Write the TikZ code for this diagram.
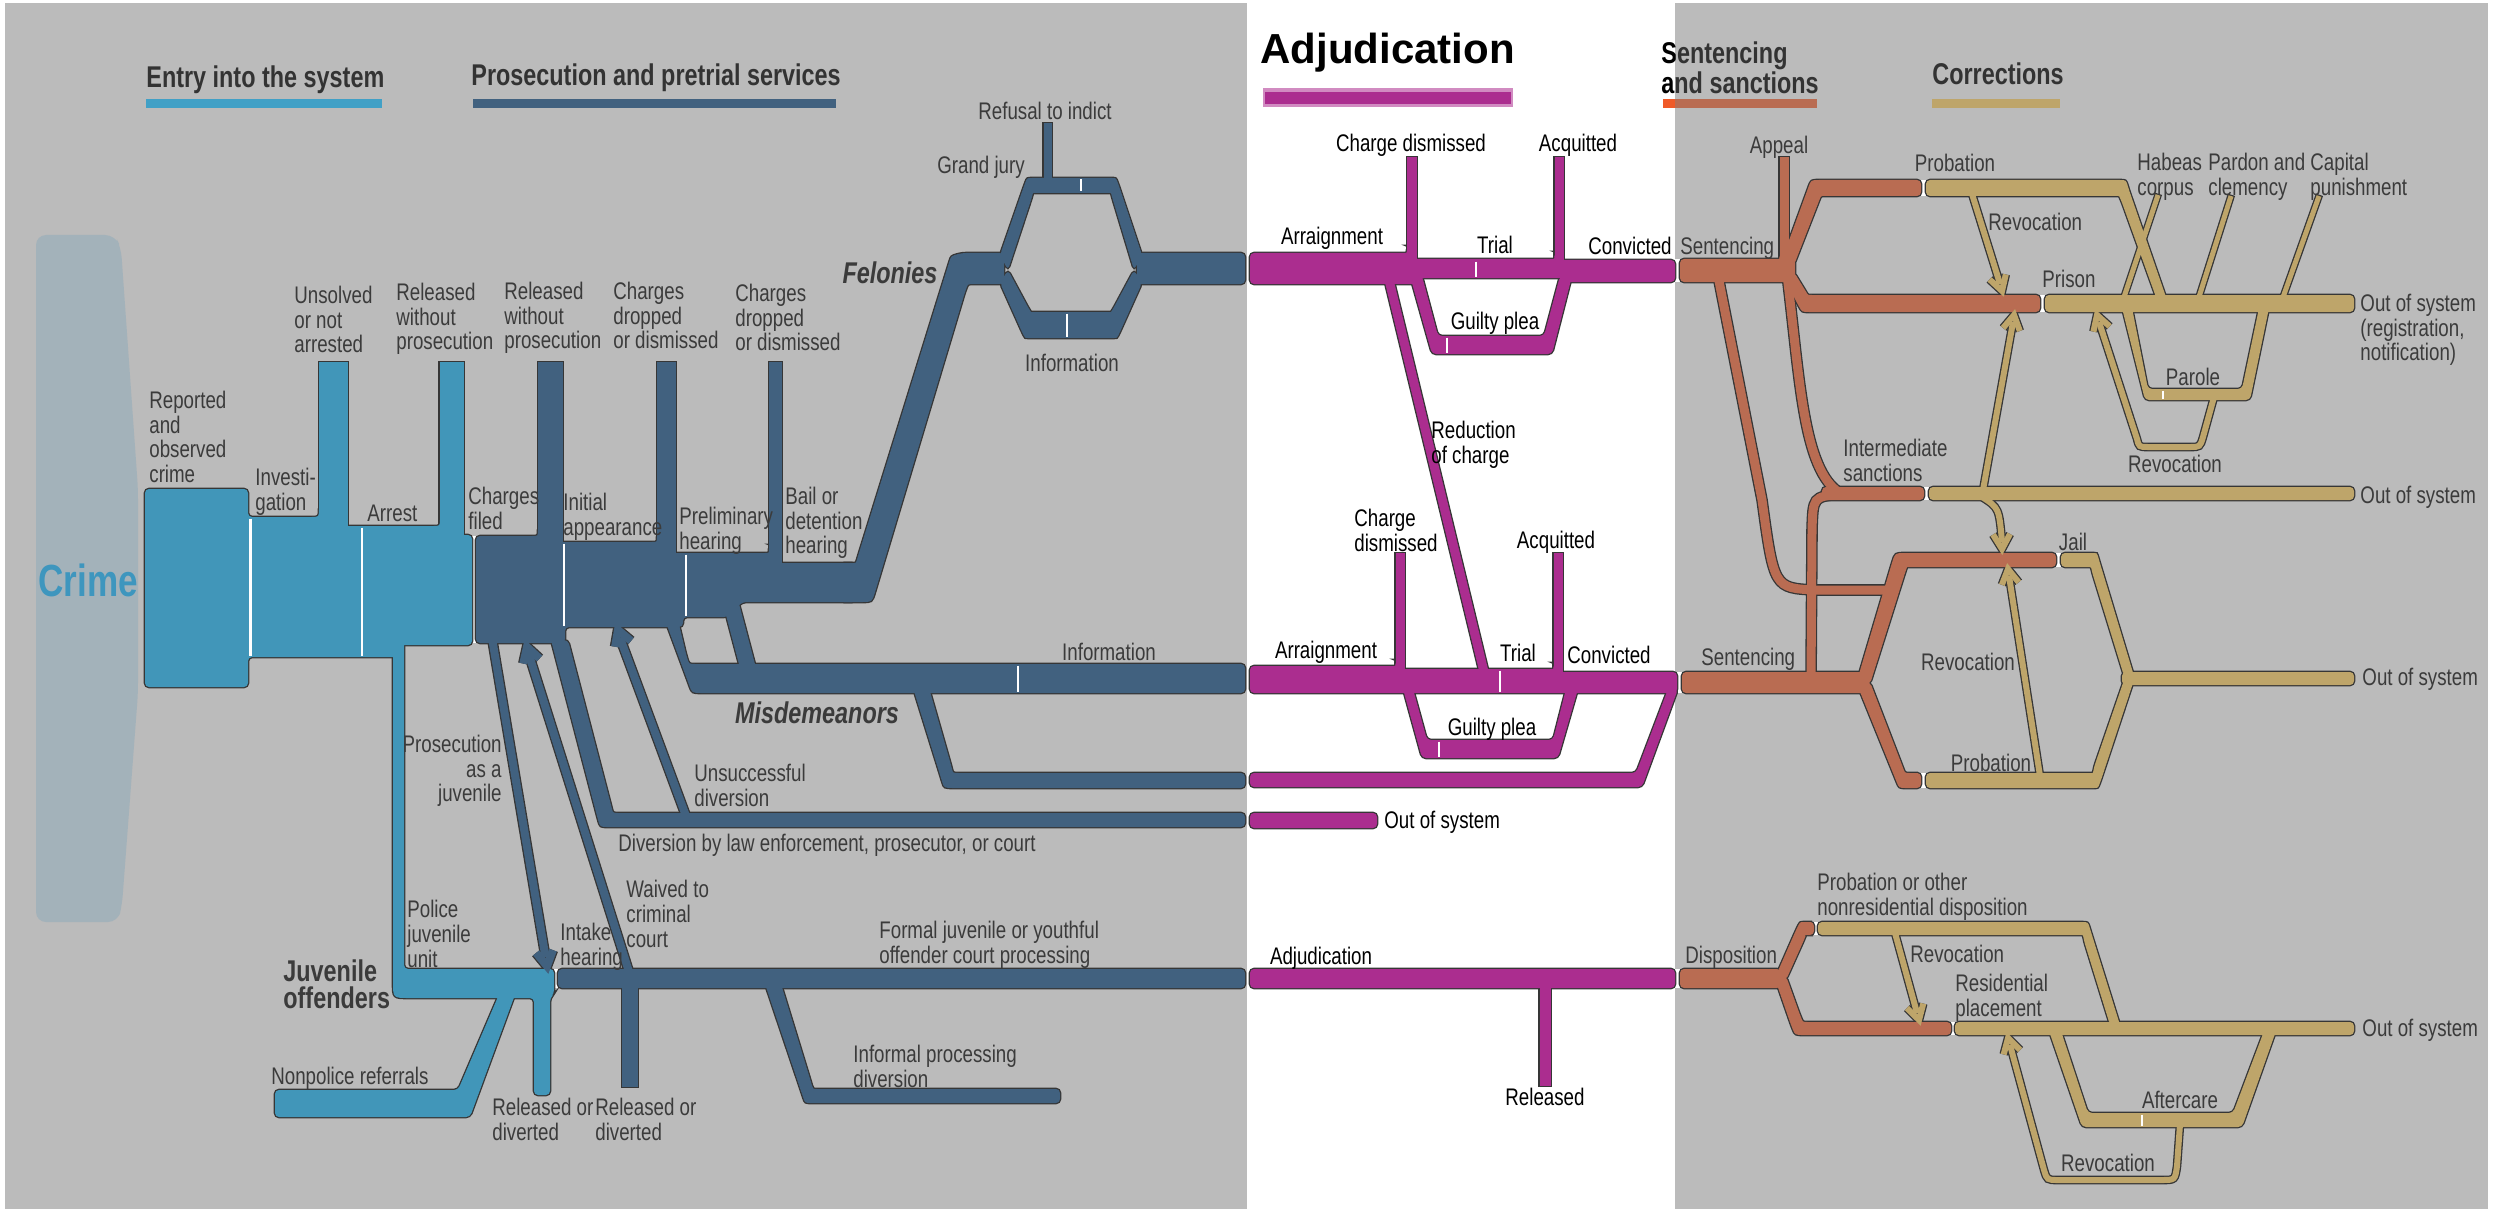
\documentclass[tikz,border=0pt]{standalone}
\usepackage{fontspec}
\setmainfont{Liberation Sans}[FakeStretch=0.78]
\newfontfamily\hdrf{Liberation Sans}
\usetikzlibrary{calc}
\pgfdeclarelayer{bgl}\pgfdeclarelayer{outl}\pgfdeclarelayer{fil}
\pgfsetlayers{bgl,outl,fil,main}
\definecolor{bgg}{HTML}{BBBBBB}
\definecolor{eb}{HTML}{4196B9}
\definecolor{ebh}{HTML}{41A0C6}
\definecolor{pb}{HTML}{41617F}
\definecolor{mg}{HTML}{AB2D8F}
\definecolor{sg}{HTML}{B96C52}
\definecolor{sgb}{HTML}{F05A28}
\definecolor{cg}{HTML}{BEA56A}
\definecolor{crg}{HTML}{A3B2BA}
\definecolor{ol}{HTML}{363636}
\definecolor{tx}{HTML}{3B3B3B}
\definecolor{hx}{HTML}{333333}
\definecolor{crt}{HTML}{3E96BE}
\newcommand\band[4][]{%
 \begin{pgfonlayer}{outl}\draw[draw=ol,line width={(#3+2.6)*0.5pt},#1] #4;\end{pgfonlayer}%
 \begin{pgfonlayer}{fil}\draw[draw=#2,line width={#3*0.5pt}] #4;\end{pgfonlayer}}
\newcommand\blk[2]{%
 \begin{pgfonlayer}{outl}\draw[draw=ol,line width=1.3pt,rounded corners=2pt] #2;\end{pgfonlayer}%
 \begin{pgfonlayer}{fil}\fill[#1,rounded corners=2pt] #2;\end{pgfonlayer}}
\newcommand\arhd[4]{\band{#1}{#2}{($(#3)!8.5pt!30:(#4)$) -- (#3) -- ($(#3)!8.5pt!-30:(#4)$)}}
\newcommand\wsep[3]{\draw[white,line width=1.3pt] (#1,#2) -- (#1,#3);}
\newcommand\lblfont{\fontsize{12}{12.3}\selectfont}
\tikzset{
 lb/.style={font=\lblfont, text=tx, inner sep=0pt, align=left},
 lk/.style={font=\lblfont, text=black, inner sep=0pt, align=left},
 hd/.style={font={\fontsize{15}{13.5}\selectfont\bfseries}, text=hx, inner sep=0pt, align=left},
 bi/.style={font={\fontsize{15}{13.5}\selectfont\bfseries\itshape}, text=tx, inner sep=0pt}
}
\begin{document}
\begin{tikzpicture}[x=0.5pt,y=-0.5pt]
\useasboundingbox (0,0) rectangle (2493,1209);
\begin{pgfonlayer}{bgl}
\fill[white] (0,0) rectangle (2493,1209);
\fill[bgg] (5,3) rectangle (1247,1209);
\fill[bgg] (1675,3) rectangle (2488,1209);
\fill[crg, rounded corners=5pt] (36,922) -- (36,235) -- (115,235) -- (121,248) -- (138,489) -- (138,693) -- (122,905) -- (118,922) -- cycle;
\foreach \gx/\ga/\gb in {474/536/643, 556/969/988, 1923.5/180/196, 2042.5/295/312, 1926.5/487/500, 2058.5/553/567, 1923.5/773/788, 1816/922/935, 1953/1022/1035, 1677.5/259/282, 1679.5/672/693, 1677.5/969/988}
  \draw[white, line width=2.5pt] (\gx,\ga) -- (\gx,\gb);
\end{pgfonlayer}

% ---------- headers
\node[hd, anchor=base west] (h1) at (146,88) {Entry into the system};
\fill[ebh] (146,99) rectangle (382,108);
\node[hd, anchor=base west] (h2) at (471,86) {Prosecution and pretrial services};
\fill[pb] (473,99) rectangle (836,108);
\node[font={\hdrf\bfseries\fontsize{21}{21}\selectfont}, text=black, anchor=base west, inner sep=0pt] (h3) at (1260,64) {Adjudication};
\fill[mg!55!white] (1263,88) rectangle (1513,107);
\fill[mg] (1265,92) rectangle (1511,104);
\begin{scope}
\clip (0,0) rectangle (1675,200);
\node[hd, text=black, anchor=north west] (h4) at (1661,41) {Sentencing\\and sanctions};
\end{scope}
\begin{scope}
\clip (1675,0) rectangle (2493,200);
\node[hd, anchor=north west] (h4b) at (1661,41) {Sentencing\\and sanctions};
\end{scope}
\fill[sg] (1663,99) rectangle (1817,108);
\fill[sgb] (1663,99) rectangle (1675,108);
\node[hd, anchor=base west] (h5) at (1932,85) {Corrections};
\fill[cg] (1932,99) rectangle (2060,108);

% ---------- entry (light blue)
\blk{eb}{(145,489) -- (248,489) -- (248,517) -- (307,517) .. controls (319,517) .. (319,505) -- (333,505) -- (333,526) -- (429,526) .. controls (440,526) .. (440,515) -- (451,515) -- (451,535) -- (472,535) -- (472,645) -- (398,645) -- (398,657) -- (248,657) -- (248,687) -- (145,687) -- cycle}
\band[shorten >=-0.65pt]{eb}{29}{(333.5,532) -- (333.5,362)}
\band[shorten >=-0.65pt]{eb}{24}{(451.5,542) -- (451.5,362)}
\blk{eb}{(393,640) -- (393,978) .. controls (393,998) .. (413,998) -- (534,998) -- (534,1095) -- (550,1095) -- (550,998) -- (554,994) -- (554,969) -- (404,969) -- (404,640) -- cycle}
\blk{eb}{(275,1090) -- (458,1090) -- (500,992) -- (516,992) -- (470,1117) -- (275,1117) -- cycle}

% ---------- pretrial (dark blue)
\blk{pb}{(476,536) -- (528,536) .. controls (538,536) .. (538,526) -- (550,526) -- (550,542) -- (648,542) .. controls (657,542) .. (657,533) -- (666,533) -- (666,553) -- (761,553) .. controls (769,553) .. (769,545) -- (775,545) -- (775,563) -- (856,563) -- (856,602) -- (742,602) -- (728,617) -- (683,617) -- (683,627) -- (565,627) -- (565,643) -- (476,643) -- cycle}
\band[shorten >=-0.65pt]{pb}{25}{(550.5,548) -- (550.5,362)}
\band[shorten >=-0.65pt]{pb}{19}{(666.5,558) -- (666.5,362)}
\band[shorten >=-0.65pt]{pb}{13}{(775.5,568) -- (775.5,362)}
% felonies
\blk{pb}{(840,563) -- (850,563) .. controls (856,563) .. (858,556) -- (948,266) .. controls (951,256) .. (962,253) -- (1004,253) -- (1004,284) -- (978,284) .. controls (968,284) .. (965,292) -- (876,589) .. controls (872,602) .. (858,602) -- (840,602) -- cycle}
\blk{pb}{(1000,255) -- (1024,186) .. controls (1027,178) .. (1036,178) -- (1108,178) .. controls (1116,178) .. (1119,186) -- (1142,255) -- (1134,270) -- (1112,197) .. controls (1111,193) .. (1106,193) -- (1038,193) .. controls (1033,193) .. (1032,197) -- (1008,270) -- cycle}
\blk{pb}{(1000,283) -- (1022,332) .. controls (1025,338) .. (1032,338) -- (1110,338) .. controls (1117,338) .. (1120,332) -- (1142,283) -- (1134,270) -- (1113,309) .. controls (1111,312) .. (1107,312) -- (1035,312) .. controls (1031,312) .. (1029,309) -- (1008,270) -- cycle}
\blk{pb}{(1137,253) -- (1245,253) -- (1245,284) -- (1137,284) -- cycle}
\band[shorten >=-0.65pt]{pb}{8}{(1047.5,184) -- (1047.5,123)}
% misdemeanors
\blk{pb}{(665,620) -- (678,620) -- (686,654) .. controls (689,664) .. (699,664) -- (1245,664) -- (1245,693) -- (706,693) .. controls (692,693) .. (688,682) -- cycle}
\blk{pb}{(722,600) -- (738,600) -- (756,668) -- (740,668) -- cycle}
\blk{pb}{(913,688) -- (929,688) -- (951,765) .. controls (953,773) .. (963,773) -- (1245,773) -- (1245,788) -- (958,788) .. controls (944,788) .. (941,778) -- cycle}
% diversion
\blk{pb}{(551,640) -- (568,640) -- (611,805) .. controls (613,813) .. (624,813) -- (1245,813) -- (1245,827) -- (612,827) .. controls (600,827) .. (597,816) -- cycle}
% arrows
\band{pb}{8}{(492,638) -- (545.5,957)}
\arhd{pb}{8}{547,966}{492,638}
\band{pb}{8}{(630,975) -- (529,655)}
\arhd{pb}{8}{527,647}{630,975}
\band{pb}{8}{(686,816) -- (620,638)}
\arhd{pb}{8}{618,630}{686,816}
% juvenile formal
\blk{pb}{(558,969) -- (1245,969) -- (1245,988) -- (558,988) -- cycle}
\band[shorten >=-0.65pt]{pb}{16}{(630,985) -- (630,1087)}
\blk{pb}{(765,984) -- (781,984) -- (811,1082) .. controls (813,1089) .. (822,1089) -- (1060,1089) -- (1060,1103) -- (816,1103) .. controls (805,1103) .. (802,1094) -- cycle}

% ---------- adjudication (magenta)
\blk{mg}{(1250,253) -- (1400,253) .. controls (1407,253) .. (1407,246) -- (1412,246) -- (1412,259) -- (1548,259) .. controls (1554.5,259) .. (1554.5,252) -- (1560,252) -- (1560,260) -- (1675,260) -- (1675,282) -- (1566,282) -- (1566,278) -- (1420,278) -- (1420,284) -- (1250,284) -- cycle}
\band[shorten >=-0.65pt]{mg}{10}{(1412,264) -- (1412,157)}
\band[shorten >=-0.65pt]{mg}{9}{(1559,266) -- (1559,157)}
\blk{mg}{(1410,276) -- (1422,276) -- (1438,336) -- (1544,336) -- (1560,276) -- (1572,276) -- (1552,354) -- (1432,354) -- cycle}
\band{mg}{9}{(1389,280) -- (1484,672)}
\blk{mg}{(1250,666) -- (1389,666) .. controls (1395.5,666) .. (1395.5,660) -- (1400,660) -- (1400,669) -- (1547,669) .. controls (1553.5,669) .. (1553.5,663) -- (1558,663) -- (1558,672) -- (1677,672) -- (1677,693) -- (1250,693) -- cycle}
\band[shorten >=-0.65pt]{mg}{9}{(1400,675) -- (1400,553)}
\band[shorten >=-0.65pt]{mg}{9}{(1558,678) -- (1558,553)}
\blk{mg}{(1403,689) -- (1413,689) -- (1427,740) -- (1553,740) -- (1566,689) -- (1578,689) -- (1558,758) -- (1422,758) -- cycle}
\blk{mg}{(1250,773) -- (1636,773) -- (1668,689) -- (1678,689) -- (1642,787) -- (1250,787) -- cycle}
\blk{mg}{(1250,813) -- (1377,813) -- (1377,828) -- (1250,828) -- cycle}
\blk{mg}{(1250,969) -- (1675,969) -- (1675,988) -- (1250,988) -- cycle}
\band[shorten >=-0.65pt]{mg}{11}{(1545,985) -- (1545,1086)}

% ---------- sentencing (orange)
\blk{sg}{(1680,259) -- (1773,259) .. controls (1779.5,259) .. (1779.5,253) -- (1784,253) -- (1795,259) -- (1795,282) -- (1680,282) -- cycle}
\band[shorten >=-0.65pt]{sg}{9}{(1784,268) -- (1784,157)}
\blk{sg}{(1780,265) -- (1807,191) .. controls (1811,180) .. (1823,180) -- (1921,180) -- (1921,196) -- (1826,196) .. controls (1821,196) .. (1819,201) -- (1794,265) -- cycle}
\blk{sg}{(1782,272) -- (1794,272) -- (1805,290) .. controls (1808,295) .. (1816,295) -- (2040,295) -- (2040,312) -- (1813,312) .. controls (1802,312) .. (1797,303) -- cycle}
\band{sg}{9}{(1787,275) .. controls (1800,380) and (1803,470) .. (1840,493)}
\band{sg}{9}{(1718,276) -- (1762,500) .. controls (1774,588) .. (1815,590) -- (1895,590)}
\blk{sg}{(1822,487) -- (1924,487) -- (1924,500) -- (1822,500) -- cycle}
\band{sg}{9}{(1811,680) -- (1812,530) .. controls (1813,497) .. (1840,494)}
\blk{sg}{(1682,672) -- (1866,672) -- (1866,693) -- (1682,693) -- cycle}
\blk{sg}{(1856,684) -- (1891,566) .. controls (1895,553) .. (1909,553) -- (2056,553) -- (2056,567) -- (1912,567) .. controls (1907,567) .. (1905,573) -- (1870,684) -- cycle}
\blk{sg}{(1856,682) -- (1870,682) -- (1902,765) .. controls (1905,773) .. (1914,773) -- (1921,773) -- (1921,788) -- (1910,788) .. controls (1899,788) .. (1895,778) -- cycle}
\blk{sg}{(1680,969) -- (1781,969) -- (1781,988) -- (1680,988) -- cycle}
\blk{sg}{(1774,980) -- (1796,930) .. controls (1800,922) .. (1808,922) -- (1814,922) -- (1814,935) -- (1809,935) .. controls (1806,935) .. (1804,940) -- (1786,980) -- cycle}
\blk{sg}{(1774,976) -- (1786,976) -- (1800,1015) .. controls (1803,1022) .. (1812,1022) -- (1951,1022) -- (1951,1035) -- (1808,1035) .. controls (1795,1035) .. (1791,1025) -- cycle}

% ---------- corrections (tan)
\blk{cg}{(1926,180) -- (2116,180) .. controls (2126,180) .. (2129,190) -- (2167,300) -- (2157,300) -- (2121,200) .. controls (2119,196) .. (2114,196) -- (1926,196) -- cycle}
\blk{cg}{(2045,295) -- (2354,295) -- (2354,312) -- (2045,312) -- cycle}
\band[shorten >=-0.65pt]{cg}{5}{(2123,300) -- (2158,195)}
\band[shorten >=-0.65pt]{cg}{5}{(2198,300) -- (2231,196)}
\band[shorten >=-0.65pt]{cg}{5}{(2282,300) -- (2319,196)}
\band{cg}{6}{(1972,194) -- (2000,284)}
\arhd{cg}{6}{2002,291}{1972,194}
\blk{cg}{(2122,308) -- (2132,308) -- (2148,389) -- (2242,389) -- (2259,308) -- (2269,308) -- (2250,400) -- (2145,400) -- cycle}
\band{cg}{6}{(2214,397) -- (2203,437) .. controls (2200,447) .. (2190,447) -- (2148,447) .. controls (2139,447) .. (2137,439) -- (2099,322)}
\arhd{cg}{6}{2097,315}{2137,439}
\blk{cg}{(1929,487) -- (2354,487) -- (2354,500) -- (1929,500) -- cycle}
\band{cg}{6}{(1983,490) -- (2013,322)}
\arhd{cg}{6}{2014,315}{1983,490}
\band{cg}{6}{(1982,497) .. controls (1999,508) .. (2002,542)}
\arhd{cg}{6}{2002,549}{2001,520}
\blk{cg}{(2061,553) -- (2090,553) .. controls (2097,553) .. (2099,560) -- (2134,676) -- (2124,676) -- (2092,572) .. controls (2091,567) .. (2086,567) -- (2061,567) -- cycle}
\blk{cg}{(2122,672) -- (2354,672) -- (2354,685) -- (2122,685) -- cycle}
\blk{cg}{(1926,773) -- (2088,773) .. controls (2093,773) .. (2094,767) -- (2124,680) -- (2134,680) -- (2101,780) .. controls (2098,788) .. (2090,788) -- (1926,788) -- cycle}
\band{cg}{6}{(2040,776) -- (2009,576)}
\arhd{cg}{6}{2008,569}{2040,776}
\blk{cg}{(1818,922) -- (2078,922) .. controls (2088,922) .. (2091,932) -- (2120,1025) -- (2110,1025) -- (2084,941) .. controls (2083,935) .. (2077,935) -- (1818,935) -- cycle}
\band{cg}{6}{(1895,933) -- (1917,1013)}
\arhd{cg}{6}{1919,1020}{1895,933}
\blk{cg}{(1955,1022) -- (2354,1022) -- (2354,1035) -- (1955,1035) -- cycle}
\blk{cg}{(2049,1031) -- (2061,1031) -- (2088,1113) -- (2233,1113) -- (2264,1031) -- (2276,1031) -- (2242,1127) -- (2082,1127) -- cycle}
\band{cg}{6}{(2180,1124) -- (2177,1166) .. controls (2175,1180) .. (2162,1180) -- (2058,1180) .. controls (2047,1180) .. (2044,1170) -- (2010,1045)}
\arhd{cg}{6}{2008,1038}{2044,1170}

% ---------- white separators
\wsep{250.5}{518.5}{655.5}
\wsep{362}{527.5}{655.5}
\wsep{564}{543.5}{625.5}
\wsep{686}{554.5}{615.5}
\wsep{1018}{665.5}{691.5}
\wsep{1081}{179.5}{191.5}
\wsep{1067}{313.5}{336.5}
\wsep{1476}{261.5}{276.5}
\wsep{1447}{337.5}{352.5}
\wsep{1500}{670.5}{691.5}
\wsep{1439}{741.5}{756.5}
\wsep{2163}{390.5}{398.5}
\wsep{2142}{1114.5}{1125.5}

% ---------- labels: entry / pretrial
\node[font={\fontsize{22.5}{22.5}\selectfont\bfseries}, text=crt, inner sep=0pt] (crime) at (88,580) {Crime};
\node[lb, anchor=north west] (l1) at (149,391) {Reported\\and\\observed\\crime};
\node[lb, anchor=north west] (l2) at (255,468) {Investi-\\gation};
\node[lb, anchor=base west] (l3) at (367,521.5) {Arrest};
\node[lb, anchor=north west] (l4) at (468,487) {Charges\\filed};
\node[lb, anchor=north west] (l5) at (563,493) {Initial\\appearance};
\node[lb, anchor=north west] (l6) at (679,507) {Preliminary\\hearing};
\node[lb, anchor=north west] (l7) at (785,487) {Bail or\\detention\\hearing};
\node[lb, anchor=north west] (l8) at (294,286) {Unsolved\\or not\\arrested};
\node[lb, anchor=north west] (l9) at (396,283) {Released\\without\\prosecution};
\node[lb, anchor=north west] (l10) at (504,282) {Released\\without\\prosecution};
\node[lb, anchor=north west] (l11) at (613,282) {Charges\\dropped\\or dismissed};
\node[lb, anchor=north west] (l12) at (735,284) {Charges\\dropped\\or dismissed};
\node[lb, anchor=base] (l13) at (981,173.5) {Grand jury};
\node[lb, anchor=base] (l14) at (1045,119.5) {Refusal to indict};
\node[lb, anchor=base] (l15) at (1072,371.5) {Information};
\node[bi] (l16) at (890,273) {Felonies};
\node[lb, anchor=base] (l17) at (1109,660.5) {Information};
\node[bi] (l18) at (817,713) {Misdemeanors};
\node[lb, anchor=north east, align=right] (l19) at (502,735) {Prosecution\\as a\\juvenile};
\node[lb, anchor=north west] (l20) at (694,764) {Unsuccessful\\diversion};
\node[lb, anchor=base west] (l21) at (618,851.5) {Diversion by law enforcement, prosecutor, or court};
\node[lb, anchor=north west] (l22) at (626,880) {Waived to\\criminal\\court};
\node[lb, anchor=north west] (l23) at (560,923) {Intake\\hearing};
\node[lb, anchor=north west] (l24) at (407,900) {Police\\juvenile\\unit};
\node[hd, text=tx, anchor=north west] (l25) at (283,959) {Juvenile\\offenders};
\node[lb, anchor=north west] (l26) at (879,921) {Formal juvenile or youthful\\offender court processing};
\node[lb, anchor=base west] (l27) at (271,1084.5) {Nonpolice referrals};
\node[lb, anchor=north west] (l28) at (492,1098) {Released or\\diverted};
\node[lb, anchor=north west] (l29) at (595,1098) {Released or\\diverted};
\node[lb, anchor=north west] (l30) at (853,1045) {Informal processing\\diversion};

% ---------- labels: adjudication
\node[lk, anchor=base] (a1) at (1411,152) {Charge dismissed};
\node[lk, anchor=base] (a2) at (1578,152) {Acquitted};
\node[lk, anchor=base] (a3) at (1332,244.5) {Arraignment};
\node[lk, anchor=base] (a4) at (1495,253.5) {Trial};
\node[lk, anchor=base] (a5) at (1630,254.5) {Convicted};
\node[lk, anchor=base] (a6) at (1495,329.5) {Guilty plea};
\node[lk, anchor=north west] (a7) at (1431,421) {Reduction\\of charge};
\node[lk, anchor=north west] (a8) at (1354,509) {Charge\\dismissed};
\node[lk, anchor=base] (a9) at (1556,548.5) {Acquitted};
\node[lk, anchor=base] (a10) at (1326,658.5) {Arraignment};
\node[lk, anchor=base] (a11) at (1518,661.5) {Trial};
\node[lk, anchor=base] (a12) at (1609,663.5) {Convicted};
\node[lk, anchor=base] (a13) at (1492,735.5) {Guilty plea};
\node[lk, anchor=base west] (a14) at (1384,828.5) {Out of system};
\node[lk, anchor=base] (a15) at (1321,964.5) {Adjudication};
\node[lk, anchor=base] (a16) at (1545,1105.5) {Released};

% ---------- labels: sentencing / corrections
\node[lb, anchor=base west] (s1) at (1680,254.5) {Sentencing};
\node[lb, anchor=base] (s2) at (1779,153.5) {Appeal};
\node[lb, anchor=base] (s3) at (1955,171.5) {Probation};
\node[lb, anchor=base west] (s4) at (1988,230.5) {Revocation};
\node[lb, anchor=base] (s5) at (2069,287.5) {Prison};
\node[lb, anchor=north west] (s6) at (2137,153) {Habeas\\corpus};
\node[lb, anchor=north west] (s7) at (2208,153) {Pardon and\\clemency};
\node[lb, anchor=north west] (s8) at (2310,153) {Capital\\punishment};
\node[lb, anchor=north west] (s9) at (2360,294) {Out of system\\(registration,\\notification)};
\node[lb, anchor=base] (s10) at (2193,385.5) {Parole};
\node[lb, anchor=base] (s11) at (2175,472.5) {Revocation};
\node[lb, anchor=north west] (s12) at (1843,439) {Intermediate\\sanctions};
\node[lb, anchor=base west] (s13) at (2360,503.5) {Out of system};
\node[lb, anchor=base] (s14) at (2073,550.5) {Jail};
\node[lb, anchor=base west] (s15) at (1701,665.5) {Sentencing};
\node[lb, anchor=base] (s16) at (1968,670.5) {Revocation};
\node[lb, anchor=base west] (s17) at (2362,685.5) {Out of system};
\node[lb, anchor=base] (s18) at (1991,771.5) {Probation};
\node[lb, anchor=base west] (s19) at (1685,963.5) {Disposition};
\node[lb, anchor=north west] (s20) at (1817,873) {Probation or other\\nonresidential disposition};
\node[lb, anchor=base west] (s21) at (1910,962.5) {Revocation};
\node[lb, anchor=north west] (s22) at (1955,974) {Residential\\placement};
\node[lb, anchor=base west] (s23) at (2362,1036.5) {Out of system};
\node[lb, anchor=base] (s24) at (2180,1108.5) {Aftercare};
\node[lb, anchor=base] (s25) at (2108,1171.5) {Revocation};
\end{tikzpicture}
\end{document}
